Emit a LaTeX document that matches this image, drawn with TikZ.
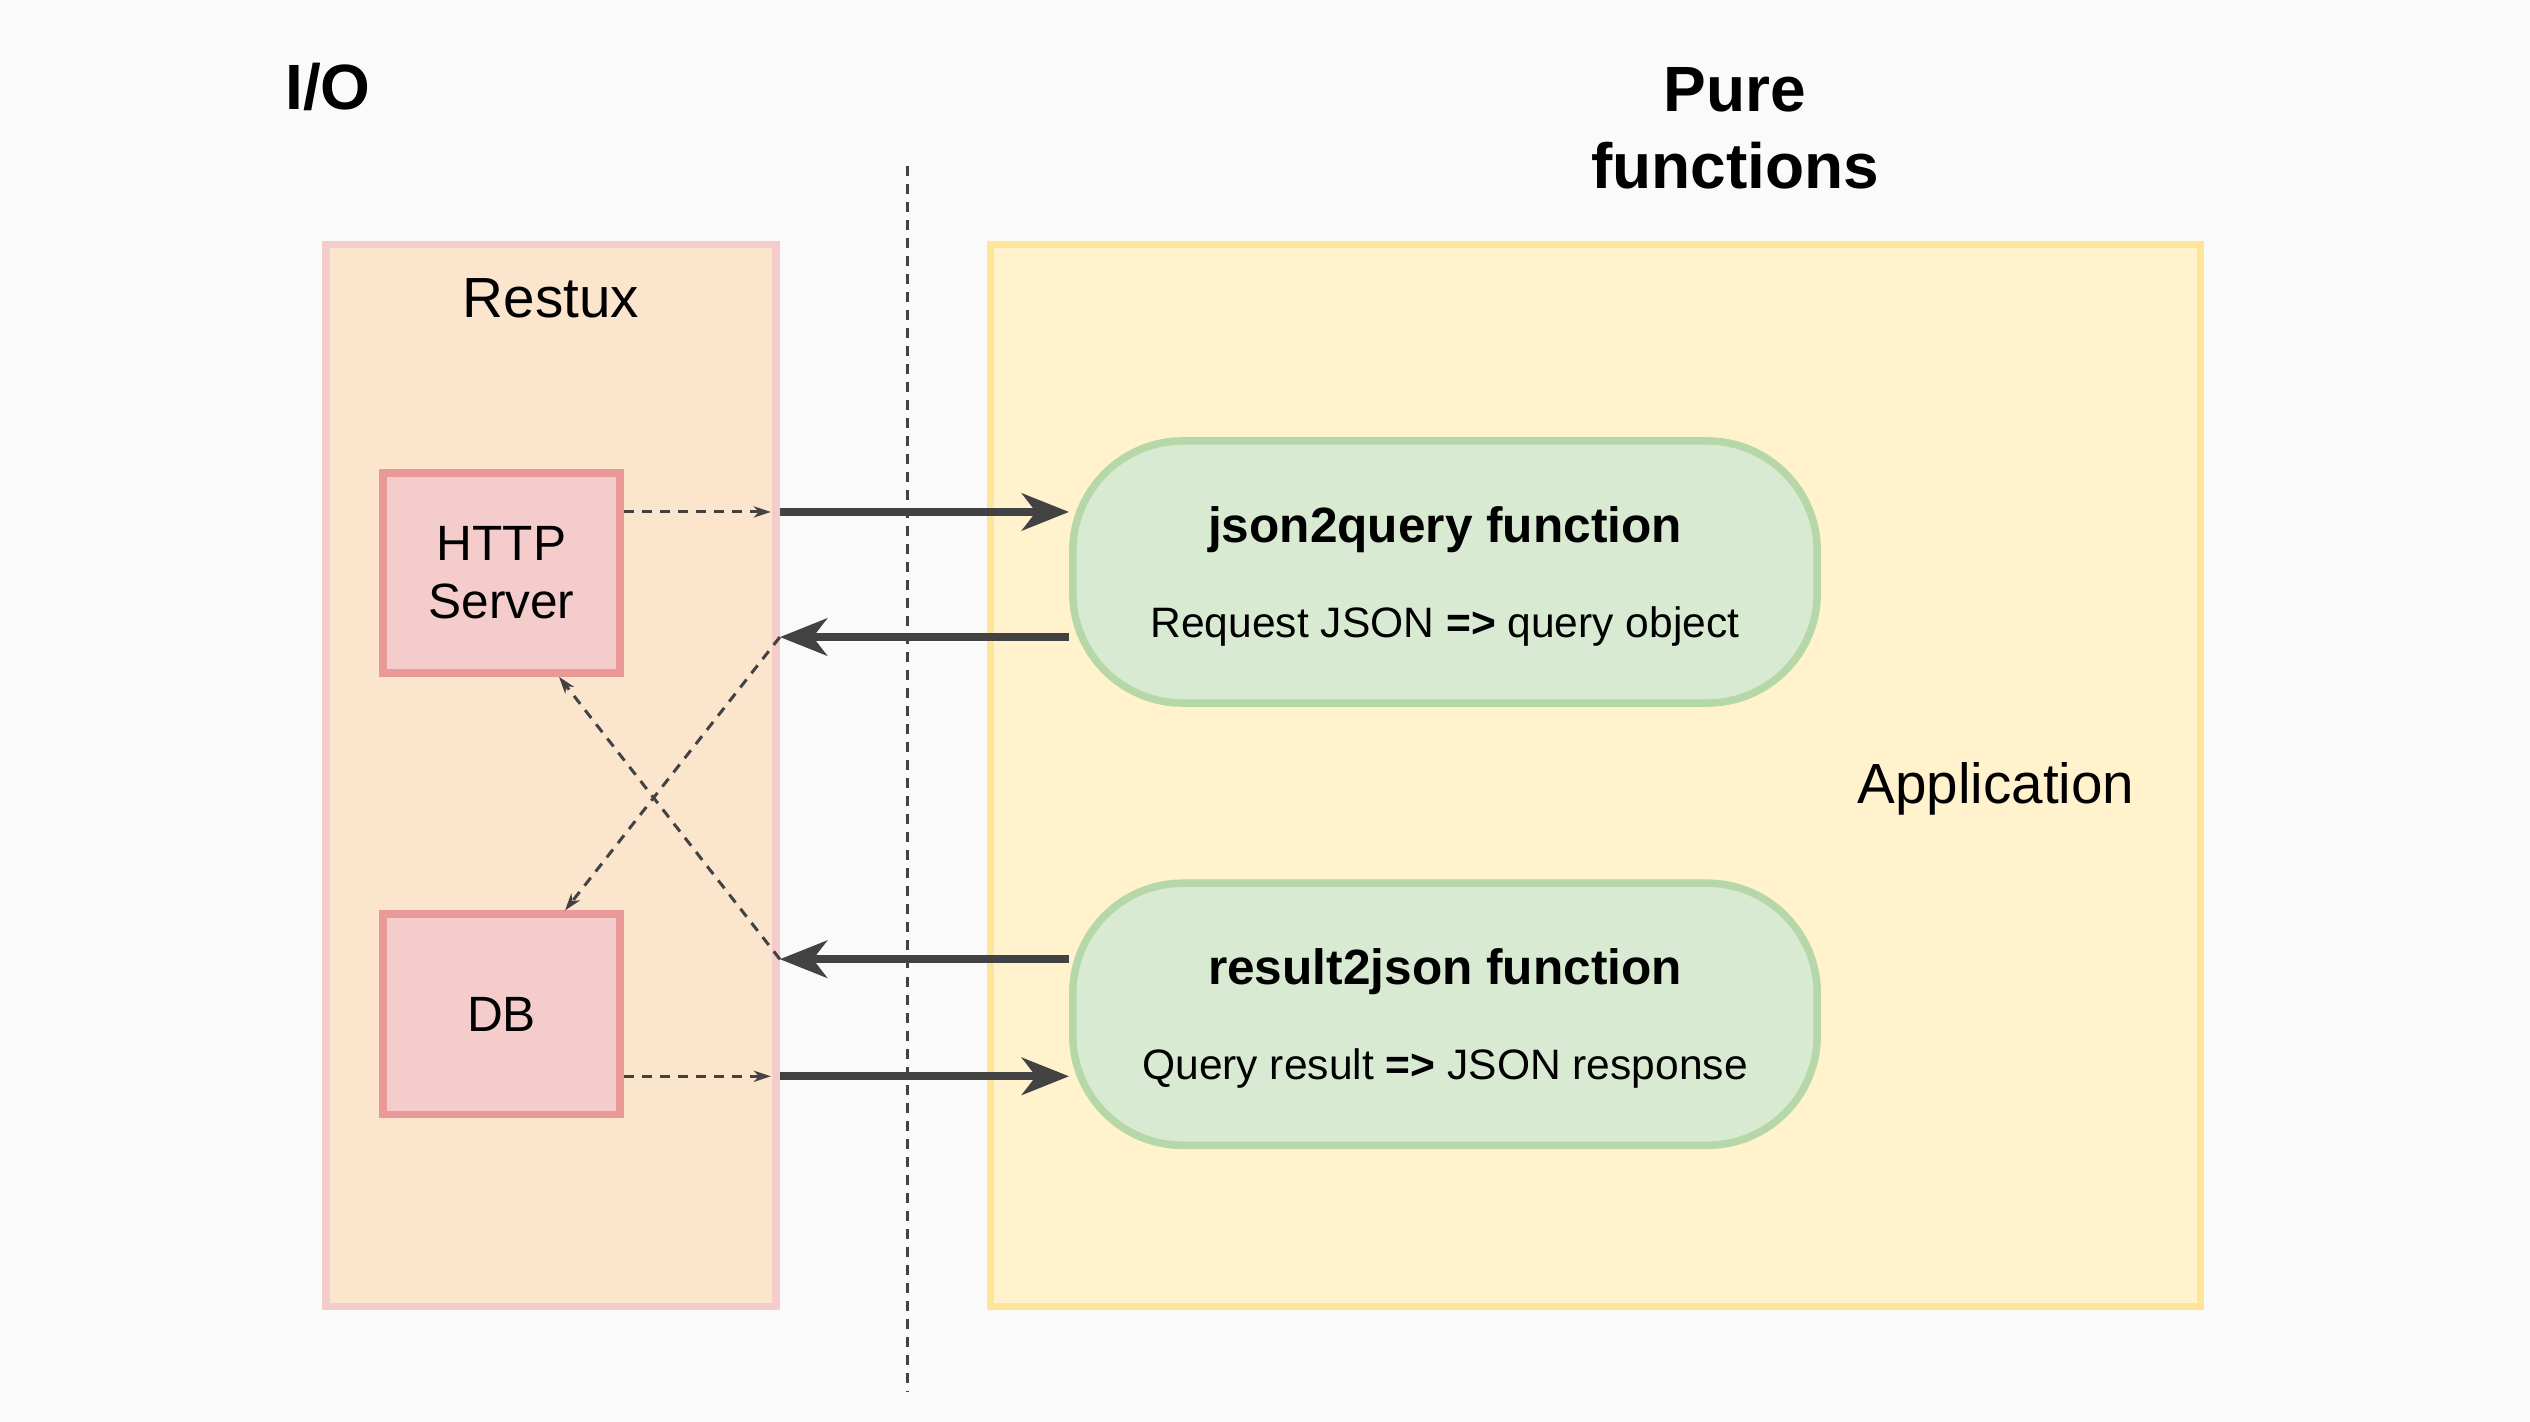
\documentclass[tikz,border=0pt]{standalone}
\usepackage{fontspec}
\setmainfont{Liberation Sans}
\usetikzlibrary{positioning,arrows.meta}

\definecolor{bgcol}{HTML}{FAFAFA}
\definecolor{restuxfill}{HTML}{FCE5CD}
\definecolor{restuxline}{HTML}{F4CCCC}
\definecolor{iofill}{HTML}{F4CCCC}
\definecolor{ioline}{HTML}{EA9999}
\definecolor{appfill}{HTML}{FFF2CC}
\definecolor{appline}{HTML}{FFE599}
\definecolor{fnfill}{HTML}{D9EAD3}
\definecolor{fnline}{HTML}{B6D7A8}
\definecolor{arrowcol}{HTML}{424242}

\newcommand{\fntitle}[1]{{\fontsize{14.1}{17}\selectfont\bfseries\rule{0pt}{12.6pt}#1}}

\begin{document}
\begin{tikzpicture}[
  x=0.01cm,y=-0.01cm,
  container/.style={draw,rectangle,line width=0.075cm,minimum height=10.61cm},
  iobox/.style={draw=ioline,fill=iofill,rectangle,line width=0.075cm,minimum width=2.37cm,minimum height=2cm,align=center,font=\fontsize{14.1}{16.5}\selectfont},
  fnbox/.style={draw=fnline,fill=fnfill,rectangle,rounded corners=1.1cm,line width=0.075cm,minimum width=7.44cm,minimum height=2.62cm,align=center,font=\fontsize{12.1}{14.5}\selectfont},
  heading/.style={font=\fontsize{18.2}{21.8}\selectfont\bfseries,align=center},
  caption/.style={font=\fontsize{16.1}{19}\selectfont},
  flow/.style={draw=arrowcol,line width=0.08cm,-{Stealth[length=0.47cm,width=0.37cm,inset=0.14cm]}},
  call/.style={draw=arrowcol,line width=0.03cm,dash pattern=on 0.1cm off 0.08cm,-{Stealth[length=0.17cm,width=0.11cm,inset=0.05cm]}},
  divider/.style={draw=arrowcol,line width=0.03cm,dash pattern=on 0.1cm off 0.08cm},
]
  \fill[bgcol] (0,0) rectangle (2530,1422);
  \useasboundingbox (0,0) rectangle (2530,1422);

  % Headings
  \node[heading] (io) at (328,86.5) {I/O};
  \node[heading] (pure) at (1735,128) {Pure\\functions};

  % Containers
  \node[container,draw=restuxline,fill=restuxfill,minimum width=4.5cm] (restux) at (551,775.5) {};
  \node[caption] (restuxlabel) at (551,298) {Restux};
  \node[container,draw=appline,fill=appfill,minimum width=12.09cm] (app) at (1595.5,775.5) {};
  \node[caption] (applabel) at (1996,789) {Application};

  % I/O side
  \node[iobox] (http) at (501.5,573) {HTTP\\Server};
  \node[iobox,below=2.335cm of http] (db) {DB};

  % Pure side
  \node[fnbox] (j2q) at (1445,572) {\fntitle{json2query function}\\[12.4pt]Request JSON \textbf{=>} query object};
  \node[fnbox,below=1.725cm of j2q] (r2j) {\fntitle{result2json function}\\[12.4pt]Query result \textbf{=>} JSON response};

  % Divider
  \coordinate (divtop) at (907,166);
  \coordinate (divbottom) at (907,1391);
  \path[divider] (divtop) -- (divbottom);

  % Rows of the calls
  \coordinate (qin) at ([yshift=0.6cm]j2q.west);
  \coordinate (qout) at ([yshift=-0.65cm]j2q.west);
  \coordinate (rin) at ([yshift=0.55cm]r2j.west);
  \coordinate (rout) at ([yshift=-0.62cm]r2j.west);

  % Edges: pure functions
  \path[flow] (restux.east |- qin) -- (qin);
  \path[flow] (qout) -- (restux.east |- qout);
  \path[flow] (rin) -- (restux.east |- rin);
  \path[flow] (restux.east |- rout) -- (rout);

  % Edges: inside Restux
  \path[call,shorten >=0.09cm] (http.east |- qin) -- (restux.east |- qin);
  \path[call] (restux.east |- qout) -- ([xshift=0.635cm]db.north);
  \path[call] (restux.east |- rin) -- ([xshift=0.575cm]http.south);
  \path[call,shorten >=0.09cm] (db.east |- rout) -- (restux.east |- rout);
\end{tikzpicture}
\end{document}
